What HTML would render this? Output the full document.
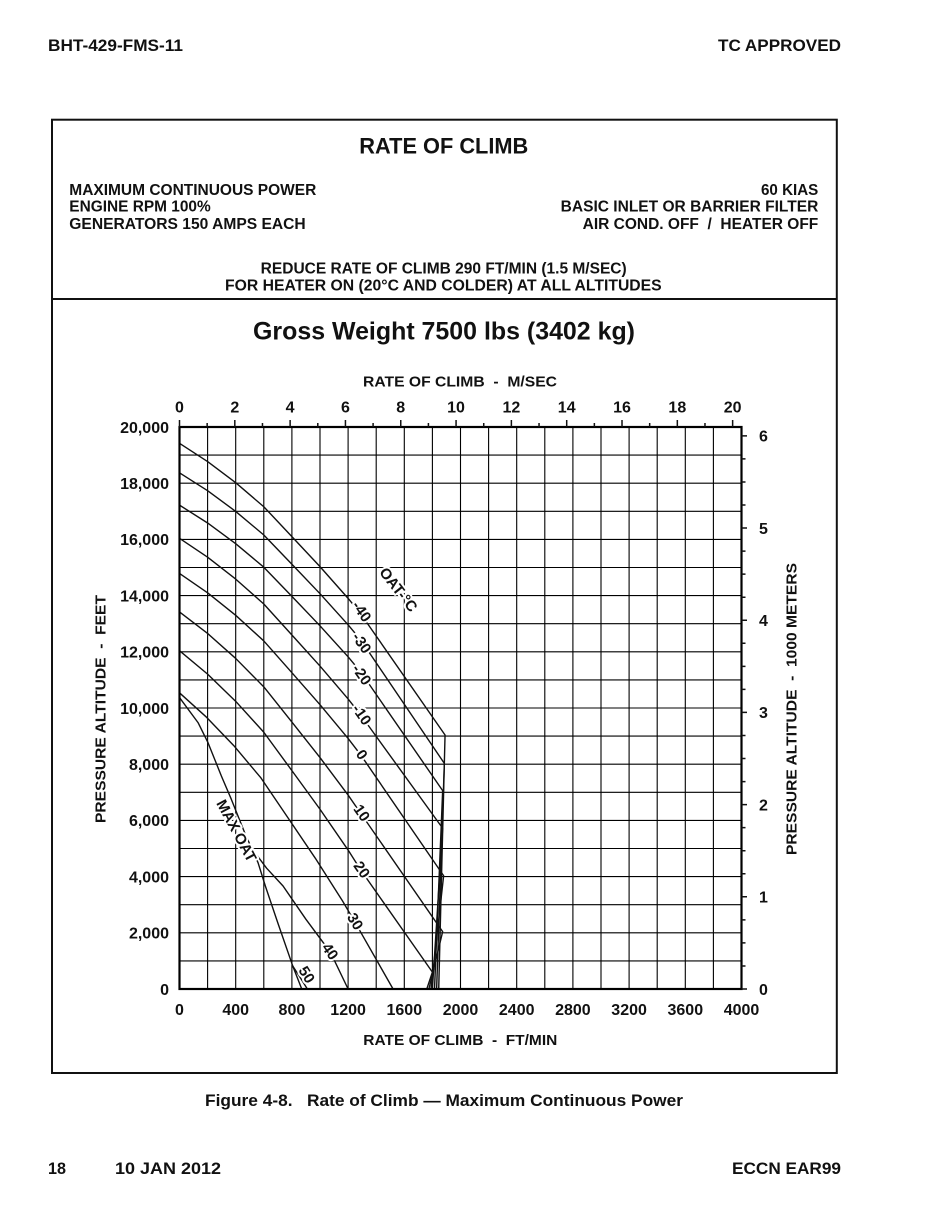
<!DOCTYPE html>
<html>
<head>
<meta charset="utf-8">
<style>
  html, body { margin: 0; padding: 0; background: #fff; }
  svg { display: block; }
  text { font-family: "Liberation Sans", Arial, sans-serif; font-weight: bold; fill: #111; }
  .lbl { font-size: 15px; paint-order: stroke; stroke: #fff; stroke-width: 4px; stroke-linejoin: round; }
</style>
</head>
<body>
<svg width="941" height="1224" viewBox="0 0 941 1224" xmlns="http://www.w3.org/2000/svg">
  <rect x="0" y="0" width="941" height="1224" fill="#fff"/>

  <!-- Header -->
  <text x="48" y="51" font-size="17" textLength="135" lengthAdjust="spacingAndGlyphs">BHT-429-FMS-11</text>
  <text x="841" y="51" font-size="17" text-anchor="end" textLength="123" lengthAdjust="spacingAndGlyphs">TC APPROVED</text>

  <!-- Outer box -->
  <rect x="52" y="119.7" width="784.8" height="953.3" fill="none" stroke="#111" stroke-width="2"/>
  <line x1="52" y1="299" x2="836.8" y2="299" stroke="#111" stroke-width="2"/>

  <!-- Title block -->
  <text x="359.3" y="153.3" font-size="22" textLength="169" lengthAdjust="spacingAndGlyphs">RATE OF CLIMB</text>

  <text x="69.3" y="195" font-size="15.4" textLength="247" lengthAdjust="spacingAndGlyphs">MAXIMUM CONTINUOUS POWER</text>
  <text x="69.3" y="211.7" font-size="15.4" textLength="141.4" lengthAdjust="spacingAndGlyphs">ENGINE RPM 100%</text>
  <text x="69.3" y="229" font-size="15.4" textLength="236.4" lengthAdjust="spacingAndGlyphs">GENERATORS 150 AMPS EACH</text>

  <text x="818.3" y="195" font-size="15.4" text-anchor="end" textLength="57.3" lengthAdjust="spacingAndGlyphs">60 KIAS</text>
  <text x="818.3" y="211.7" font-size="15.4" text-anchor="end" textLength="257.6" lengthAdjust="spacingAndGlyphs">BASIC INLET OR BARRIER FILTER</text>
  <text x="818.3" y="229" font-size="15.4" text-anchor="end" textLength="235.6" lengthAdjust="spacingAndGlyphs">AIR COND. OFF&#160; /&#160; HEATER OFF</text>

  <text x="260.7" y="273.3" font-size="15.4" textLength="366" lengthAdjust="spacingAndGlyphs">REDUCE RATE OF CLIMB 290 FT/MIN (1.5 M/SEC)</text>
  <text x="225" y="290.7" font-size="15.4" textLength="436.7" lengthAdjust="spacingAndGlyphs">FOR HEATER ON (20°C AND COLDER) AT ALL ALTITUDES</text>

  <text x="253" y="339.5" font-size="25" textLength="382" lengthAdjust="spacingAndGlyphs">Gross Weight 7500 lbs (3402 kg)</text>

  <!-- Axis titles -->
  <text x="363" y="386.5" font-size="15" textLength="194" lengthAdjust="spacingAndGlyphs">RATE OF CLIMB&#160; -&#160; M/SEC</text>
  <text x="363.3" y="1045" font-size="15" textLength="194" lengthAdjust="spacingAndGlyphs">RATE OF CLIMB&#160; -&#160; FT/MIN</text>
  <text transform="translate(105.5,709) rotate(-90)" font-size="15" text-anchor="middle" textLength="228" lengthAdjust="spacingAndGlyphs">PRESSURE ALTITUDE&#160; -&#160; FEET</text>
  <text transform="translate(796.5,709) rotate(-90)" font-size="15" text-anchor="middle" textLength="292" lengthAdjust="spacingAndGlyphs">PRESSURE ALTITUDE&#160; -&#160; 1000 METERS</text>

  <!-- Grid (data coords) -->
  <g transform="translate(179.5,989) scale(0.1405,-0.0281)" fill="none">
    <path vector-effect="non-scaling-stroke" stroke="#000" stroke-width="1.1"
      d="M200 0V20000M400 0V20000M600 0V20000M800 0V20000M1000 0V20000M1200 0V20000M1400 0V20000M1600 0V20000M1800 0V20000M2000 0V20000M2200 0V20000M2400 0V20000M2600 0V20000M2800 0V20000M3000 0V20000M3200 0V20000M3400 0V20000M3600 0V20000M3800 0V20000
         M0 1000H4000M0 2000H4000M0 3000H4000M0 4000H4000M0 5000H4000M0 6000H4000M0 7000H4000M0 8000H4000M0 9000H4000M0 10000H4000M0 11000H4000M0 12000H4000M0 13000H4000M0 14000H4000M0 15000H4000M0 16000H4000M0 17000H4000M0 18000H4000M0 19000H4000"/>

    <!-- OAT curves -->
    <g stroke="#111" stroke-width="1.4" stroke-linejoin="round" stroke-linecap="round">
      <polyline vector-effect="non-scaling-stroke" points="0,19420 200,18770 400,18018 600,17162 800,16100 1000,15031 1200,13902 1290,13350 1890,9040 1845,0"/>
      <polyline vector-effect="non-scaling-stroke" points="0,18370 200,17733 400,16996 600,16157 800,15115 1000,14068 1200,12961 1290,12420 1885,8030 1830,0"/>
      <polyline vector-effect="non-scaling-stroke" points="0,17220 200,16584 400,15848 600,15010 800,13971 1000,12925 1200,11821 1290,11280 1873,7060 1815,0"/>
      <polyline vector-effect="non-scaling-stroke" points="0,16040 200,15367 400,14587 600,13700 800,12599 1000,11492 1200,10322 1290,9750 1873,5720 1800,0"/>
      <polyline vector-effect="non-scaling-stroke" points="0,14790 200,14099 400,13298 600,12387 800,11256 1000,10119 1200,8918 1290,8330 1880,4030 1790,0"/>
      <polyline vector-effect="non-scaling-stroke" points="0,13420 200,12653 400,11764 600,10753 800,9498 1000,8236 1200,6902 1290,6250 1873,2040 1775,0"/>
      <polyline vector-effect="non-scaling-stroke" points="0,12040 200,11205 400,10237 600,9137 800,7771 1000,6397 1200,4945 1290,4235 1800,600 1760,0"/>
      <polyline vector-effect="non-scaling-stroke" points="0,10540 193,9668 387,8658 580,7510 773,6085 967,4651 1160,3136 1247,2395 1520,0"/>
      <polyline vector-effect="non-scaling-stroke" points="515,5000 620,4300 737,3665 900,2480 1075,1300 1200,0"/>
      <polyline vector-effect="non-scaling-stroke" points="0,10370 132,9480 203,8765 298,7580 369,6750 464,5560 559,4495 611,3665 700,2350 806,820 870,0"/>
      <polyline vector-effect="non-scaling-stroke" points="806,820 860,400 910,0"/>
    </g>
  </g>

  <!-- Plot border -->
  <rect x="179.5" y="427" width="562" height="562" fill="none" stroke="#000" stroke-width="2.2"/>

  <!-- Top ticks (m/sec) -->
  <path stroke="#111" stroke-width="1.5" fill="none"
    d="M179.5 420V427M207.16 423V427M234.81 420V427M262.47 423V427M290.13 420V427M317.79 423V427M345.44 420V427M373.10 423V427M400.76 420V427M428.41 423V427M456.07 420V427M483.73 423V427M511.38 420V427M539.04 423V427M566.70 420V427M594.36 423V427M622.01 420V427M649.67 423V427M677.33 420V427M704.98 423V427M732.64 420V427"/>

  <!-- Right ticks (meters) -->
  <path stroke="#111" stroke-width="1.5" fill="none"
    d="M741.5 989H747M741.5 965.95H745.5M741.5 942.9H745.5M741.5 919.86H745.5M741.5 896.81H747M741.5 873.76H745.5M741.5 850.71H745.5M741.5 827.67H745.5M741.5 804.62H747M741.5 781.57H745.5M741.5 758.52H745.5M741.5 735.48H745.5M741.5 712.43H747M741.5 689.38H745.5M741.5 666.33H745.5M741.5 643.29H745.5M741.5 620.24H747M741.5 597.19H745.5M741.5 574.14H745.5M741.5 551.1H745.5M741.5 528.05H747M741.5 505H745.5M741.5 481.95H745.5M741.5 458.9H745.5M741.5 435.86H747"/>

  <!-- Top tick labels -->
  <g font-size="16" text-anchor="middle">
    <text x="179.5" y="412.7">0</text>
    <text x="234.81" y="412.7">2</text>
    <text x="290.13" y="412.7">4</text>
    <text x="345.44" y="412.7">6</text>
    <text x="400.76" y="412.7">8</text>
    <text x="456.07" y="412.7">10</text>
    <text x="511.38" y="412.7">12</text>
    <text x="566.70" y="412.7">14</text>
    <text x="622.01" y="412.7">16</text>
    <text x="677.33" y="412.7">18</text>
    <text x="732.64" y="412.7">20</text>
  </g>

  <!-- Left tick labels -->
  <g font-size="16" text-anchor="end">
    <text x="169" y="994.8">0</text>
    <text x="169" y="938.6">2,000</text>
    <text x="169" y="882.4">4,000</text>
    <text x="169" y="826.2">6,000</text>
    <text x="169" y="770">8,000</text>
    <text x="169" y="713.8">10,000</text>
    <text x="169" y="657.6">12,000</text>
    <text x="169" y="601.4">14,000</text>
    <text x="169" y="545.2">16,000</text>
    <text x="169" y="489">18,000</text>
    <text x="169" y="432.8">20,000</text>
  </g>

  <!-- Right tick labels -->
  <g font-size="16">
    <text x="759" y="994.8">0</text>
    <text x="759" y="902.6">1</text>
    <text x="759" y="810.4">2</text>
    <text x="759" y="718.2">3</text>
    <text x="759" y="626">4</text>
    <text x="759" y="533.8">5</text>
    <text x="759" y="441.7">6</text>
  </g>

  <!-- Bottom tick labels -->
  <g font-size="16" text-anchor="middle">
    <text x="179.5" y="1015">0</text>
    <text x="235.7" y="1015">400</text>
    <text x="291.9" y="1015">800</text>
    <text x="348.1" y="1015">1200</text>
    <text x="404.3" y="1015">1600</text>
    <text x="460.5" y="1015">2000</text>
    <text x="516.7" y="1015">2400</text>
    <text x="572.9" y="1015">2800</text>
    <text x="629.1" y="1015">3200</text>
    <text x="685.3" y="1015">3600</text>
    <text x="741.5" y="1015">4000</text>
  </g>

  <!-- Curve labels -->
  <g text-anchor="middle" dominant-baseline="central">
    <text class="lbl" transform="translate(398,590) rotate(52)">OAT-°C</text>
    <text class="lbl" transform="translate(361.3,611.7) rotate(55)">-40</text>
    <text class="lbl" transform="translate(361.3,643.3) rotate(55)">-30</text>
    <text class="lbl" transform="translate(361.3,675) rotate(55)">-20</text>
    <text class="lbl" transform="translate(361.3,715) rotate(55)">-10</text>
    <text class="lbl" transform="translate(361.3,755) rotate(55)">0</text>
    <text class="lbl" transform="translate(361.3,813.3) rotate(55)">10</text>
    <text class="lbl" transform="translate(361.3,870) rotate(55)">20</text>
    <text class="lbl" transform="translate(354.7,921.7) rotate(58)">30</text>
    <text class="lbl" transform="translate(329.7,951.7) rotate(55)">40</text>
    <text class="lbl" transform="translate(306.3,975) rotate(58)">50</text>
    <text class="lbl" transform="translate(236,831) rotate(62)">MAX OAT</text>
  </g>

  <!-- Caption -->
  <text x="205" y="1106" font-size="17" textLength="478" lengthAdjust="spacingAndGlyphs">Figure 4-8.&#160;&#160; Rate of Climb — Maximum Continuous Power</text>

  <!-- Footer -->
  <text x="48" y="1174" font-size="17" textLength="18" lengthAdjust="spacingAndGlyphs">18</text>
  <text x="115" y="1174" font-size="17" textLength="106" lengthAdjust="spacingAndGlyphs">10 JAN 2012</text>
  <text x="841" y="1174" font-size="17" text-anchor="end" textLength="109" lengthAdjust="spacingAndGlyphs">ECCN EAR99</text>
</svg>
</body>
</html>
